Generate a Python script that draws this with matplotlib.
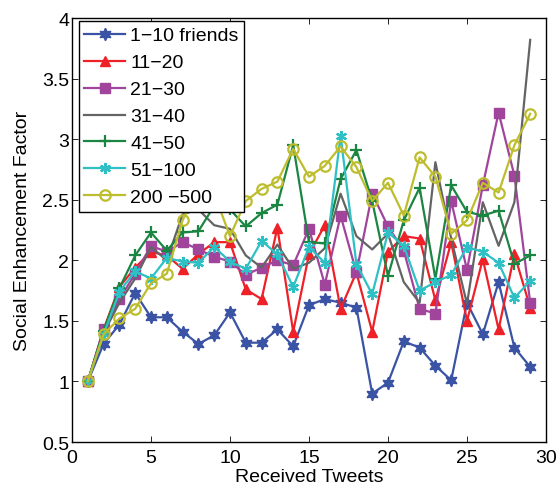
import numpy as np
import matplotlib
matplotlib.use('Agg')
import matplotlib.pyplot as plt

plt.rcParams['font.family'] = ['Liberation Sans', 'DejaVu Sans']

# Received tweets (x) and social enhancement factor per friend-count group
tweets = list(range(1, 30))

f_1_10 = [1.0, 1.31, 1.47, 1.73, 1.53, 1.53, 1.41, 1.31, 1.38, 1.57, 1.32, 1.32, 1.43, 1.29,
          1.63, 1.68, 1.65, 1.61, 0.9, 0.99, 1.33, 1.28, 1.13, 1.01, 1.65, 1.39, 1.82, 1.28, 1.12]
f_11_20 = [1.0, 1.43, 1.78, 1.94, 2.07, 2.04, 1.93, 2.05, 2.15, 2.15, 1.76, 1.68, 2.27, 1.41,
           2.05, 2.29, 1.6, 1.9, 1.41, 2.07, 2.2, 2.18, 1.67, 2.15, 1.5, 2.01, 1.43, 2.05, 1.61]
f_21_30 = [1.0, 1.43, 1.68, 1.89, 2.12, 2.07, 2.15, 2.09, 2.03, 1.99, 1.88, 1.94, 2.0, 1.96,
           2.26, 1.8, 2.37, 1.9, 2.55, 2.28, 2.08, 1.6, 1.56, 2.49, 1.92, 2.62, 3.22, 2.7, 1.65]
f_31_40 = [1.0, 1.4, 1.65, 1.85, 2.11, 2.0, 2.38, 2.42, 2.29, 2.26, 2.04, 1.94, 2.13, 1.93,
           1.98, 2.1, 2.55, 2.2, 2.09, 2.22, 1.82, 1.65, 2.81, 2.18, 1.64, 2.48, 2.12, 2.48, 3.82]
f_41_50 = [1.0, 1.42, 1.77, 2.04, 2.23, 2.08, 2.23, 2.24, 2.45, 2.42, 2.28, 2.39, 2.46, 2.95,
           2.15, 2.14, 2.67, 2.91, 2.49, 1.87, 2.33, 2.6, 1.85, 2.62, 2.4, 2.37, 2.41, 1.97, 2.04]
f_51_100 = [1.0, 1.39, 1.74, 1.91, 1.85, 2.02, 1.99, 1.98, 2.11, 1.99, 1.93, 2.16, 2.05, 1.78,
            2.11, 1.98, 3.03, 1.97, 1.72, 2.23, 2.12, 1.75, 1.82, 1.88, 2.11, 2.07, 1.98, 1.69, 1.83]
f_200_500 = [1.0, 1.39, 1.52, 1.6, 1.81, 1.89, 2.33, 2.6, 2.55, 2.2, 2.49, 2.59, 2.65, 2.92,
             2.69, 2.78, 2.94, 2.77, 2.49, 2.64, 2.37, 2.85, 2.69, 2.22, 2.33, 2.64, 2.56, 2.95, 3.21]

labels = ['1\u221210 friends', '11\u221220', '21\u221230', '31\u221240', '41\u221250', '51\u2212100', '200 \u2212500']
series = [f_1_10, f_11_20, f_21_30, f_31_40, f_41_50, f_51_100, f_200_500]
colors = ['#3a53a4', '#ee2028', '#a1459c', '#646464', '#1b8642', '#2ec0c4', '#bdbd2e']
markers = [(6, 1, 0), '^', 's', None, '+', (6, 2, 0), 'o']

fs = 14

fig = plt.figure(figsize=(5.58, 4.89), dpi=100)
ax = fig.add_axes([0.129, 0.094, 0.8495, 0.867])

for vals, lab, col, mk in zip(series, labels, colors, markers):
    kw = dict(color=col, lw=1.6, marker=mk, markersize=7, label=lab)
    if mk == 'o':
        kw.update(markerfacecolor='none', markeredgewidth=1.6, markersize=7.5)
    elif mk == '+' or mk == (6, 2, 0):
        kw.update(markeredgewidth=1.6, markersize=8)
    elif mk == (6, 1, 0):
        kw.update(markersize=9)
    ax.plot(tweets, vals, **kw)

ax.set_xlim(0, 30)
ax.set_ylim(0.5, 4)
ax.set_xticks(np.arange(0, 31, 5))
ax.set_yticks(np.arange(0.5, 4.01, 0.5))
ax.set_yticklabels(['0.5', '1', '1.5', '2', '2.5', '3', '3.5', '4'])
ax.tick_params(direction='in', top=True, right=True, labelsize=fs, length=4, width=0.6, pad=2)
ax.tick_params(axis='x', pad=5)
for s in ax.spines.values():
    s.set_linewidth(1.0)

ax.set_xlabel('Received Tweets', fontsize=fs, labelpad=1.5)
ax.set_ylabel('Social Enhancement Factor', fontsize=fs, labelpad=8)

leg = ax.legend(loc='upper left', bbox_to_anchor=(0.014, 0.993), fontsize=fs,
                fancybox=False, framealpha=1, edgecolor='black', borderaxespad=0,
                labelspacing=0.48, handlelength=2.1, handletextpad=0.25, borderpad=0.3)
leg.get_frame().set_linewidth(1.0)

fig.savefig('out.png', dpi=100)
